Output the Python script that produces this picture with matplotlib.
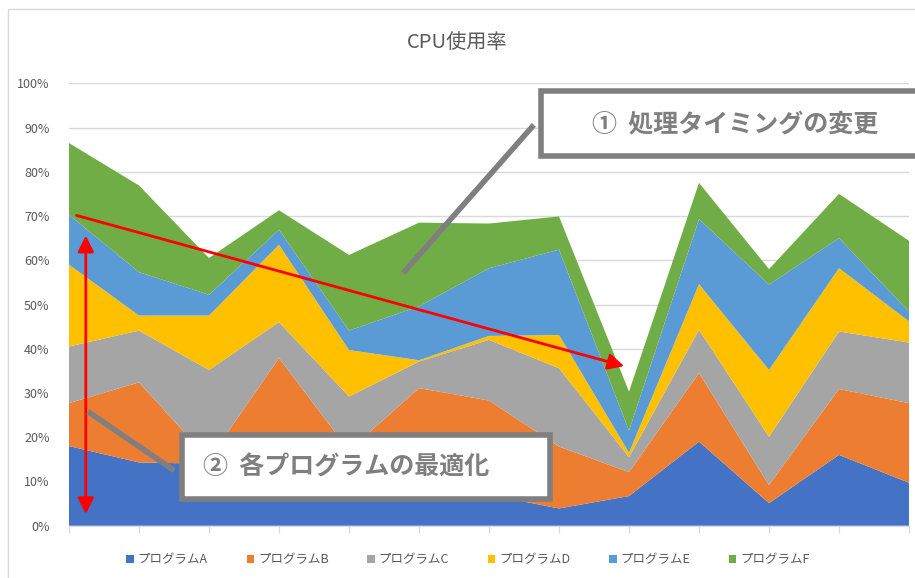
import numpy as np
import matplotlib
matplotlib.use("Agg")
import matplotlib.pyplot as plt
from matplotlib.patches import Rectangle
from matplotlib.lines import Line2D

plt.rcParams['font.family'] = ['Noto Sans CJK JP', 'DejaVu Sans']

# data (share of CPU, %)
labels = ["プログラムA", "プログラムB", "プログラムC", "プログラムD", "プログラムE", "プログラムF"]
prog_a = [18.0, 14.3, 14.0, 12.0, 10.0, 9.0, 7.0, 3.9, 6.7, 19.0, 5.1, 16.0, 9.7]
prog_b = [9.7, 18.1, 1.0, 25.9, 7.0, 22.1, 21.3, 14.0, 5.4, 15.5, 4.1, 14.9, 18.0]
prog_c = [12.8, 11.7, 20.2, 8.1, 12.2, 6.0, 13.7, 17.7, 3.4, 9.8, 10.9, 13.0, 13.7]
prog_d = [18.5, 3.4, 12.3, 17.5, 10.5, 0.3, 0.9, 7.5, 1.0, 10.3, 15.1, 14.3, 4.8]
prog_e = [11.3, 9.8, 4.7, 3.4, 4.4, 12.2, 15.3, 19.3, 5.0, 14.7, 19.3, 6.8, 2.2]
prog_f = [16.2, 19.6, 8.3, 4.4, 17.1, 18.9, 10.1, 7.5, 8.8, 8.2, 3.5, 10.0, 16.0]
colors = ["#4472C4", "#ED7D31", "#A5A5A5", "#FFC000", "#5B9BD5", "#70AD47"]

W, H = 915, 578
fx = lambda px: px / W
fy = lambda py: 1 - py / H

fig = plt.figure(figsize=(W / 100, H / 100), dpi=100)
ax = fig.add_axes([fx(69), fy(525.7), fx(909) - fx(69), fy(83.3) - fy(525.7)])

x = np.arange(len(prog_a))
series = np.array([prog_a, prog_b, prog_c, prog_d, prog_e, prog_f]) / 100
ax.stackplot(x, series, colors=colors, labels=labels, linewidth=0)

ax.set_xlim(0, len(x) - 1)
ax.set_ylim(0, 1)
ax.set_yticks(np.arange(0, 1.01, 0.1))
ax.set_yticklabels([f"{int(round(v * 100))}%" for v in np.arange(0, 1.01, 0.1)],
                   color="#595959", fontsize=9)
ax.set_xticks(x)
ax.set_xticklabels([])
ax.tick_params(axis='y', length=0, pad=14)
ax.tick_params(axis='x', length=5, color="#d9d9d9", direction='out')
ax.grid(axis='y', color="#d9d9d9", linewidth=1)
ax.set_axisbelow(True)
for s in ["left", "right", "top"]:
    ax.spines[s].set_visible(False)
ax.spines["bottom"].set_color("#d9d9d9")

fig.text(0.5, fy(42), "CPU使用率", ha='center', va='center', fontsize=14.5, color="#595959")

# outer chart border
fig.patches.append(Rectangle((fx(8), -0.1), 1.1, fy(9) + 0.1, transform=fig.transFigure,
                             fill=False, edgecolor="#d9d9d9", linewidth=1))

leg = ax.legend(loc='center', bbox_to_anchor=(fx(468), fy(560)), bbox_transform=fig.transFigure,
                ncol=6, frameon=False, fontsize=9, handlelength=0.6, handleheight=0.6,
                handletextpad=0.3, columnspacing=3.1, labelcolor="#595959")

# red arrows
ax.annotate("", xy=(7.97, 0.359), xytext=(0.07, 0.703),
            arrowprops=dict(arrowstyle='-|>', color='red', lw=2, mutation_scale=24))
ax.annotate("", xy=(0.24, 0.02), xytext=(0.24, 0.662),
            arrowprops=dict(arrowstyle='<|-|>', color='red', lw=2, mutation_scale=24))

# callout boxes
grey = "#7f7f7f"
fig.lines.append(Line2D([fx(532), fx(405)], [fy(127), fy(271)], transform=fig.transFigure,
                        color=grey, linewidth=4))
fig.patches.append(Rectangle((fx(541), fy(156)), fx(400), fy(91) - fy(156),
                             transform=fig.transFigure, facecolor="white",
                             edgecolor=grey, linewidth=4))
fig.text(fx(592), fy(124), "①  処理タイミングの変更", ha='left', va='center',
         fontsize=18, fontweight='bold', color=grey)

fig.lines.append(Line2D([fx(90), fx(172)], [fy(413), fy(469)], transform=fig.transFigure,
                        color=grey, linewidth=4))
fig.patches.append(Rectangle((fx(182), fy(499)), fx(368), fy(435) - fy(499),
                             transform=fig.transFigure, facecolor="white",
                             edgecolor=grey, linewidth=4))
fig.text(fx(203), fy(467), "②  各プログラムの最適化", ha='left', va='center',
         fontsize=18, fontweight='bold', color=grey)

fig.savefig("out.png", dpi=100)
